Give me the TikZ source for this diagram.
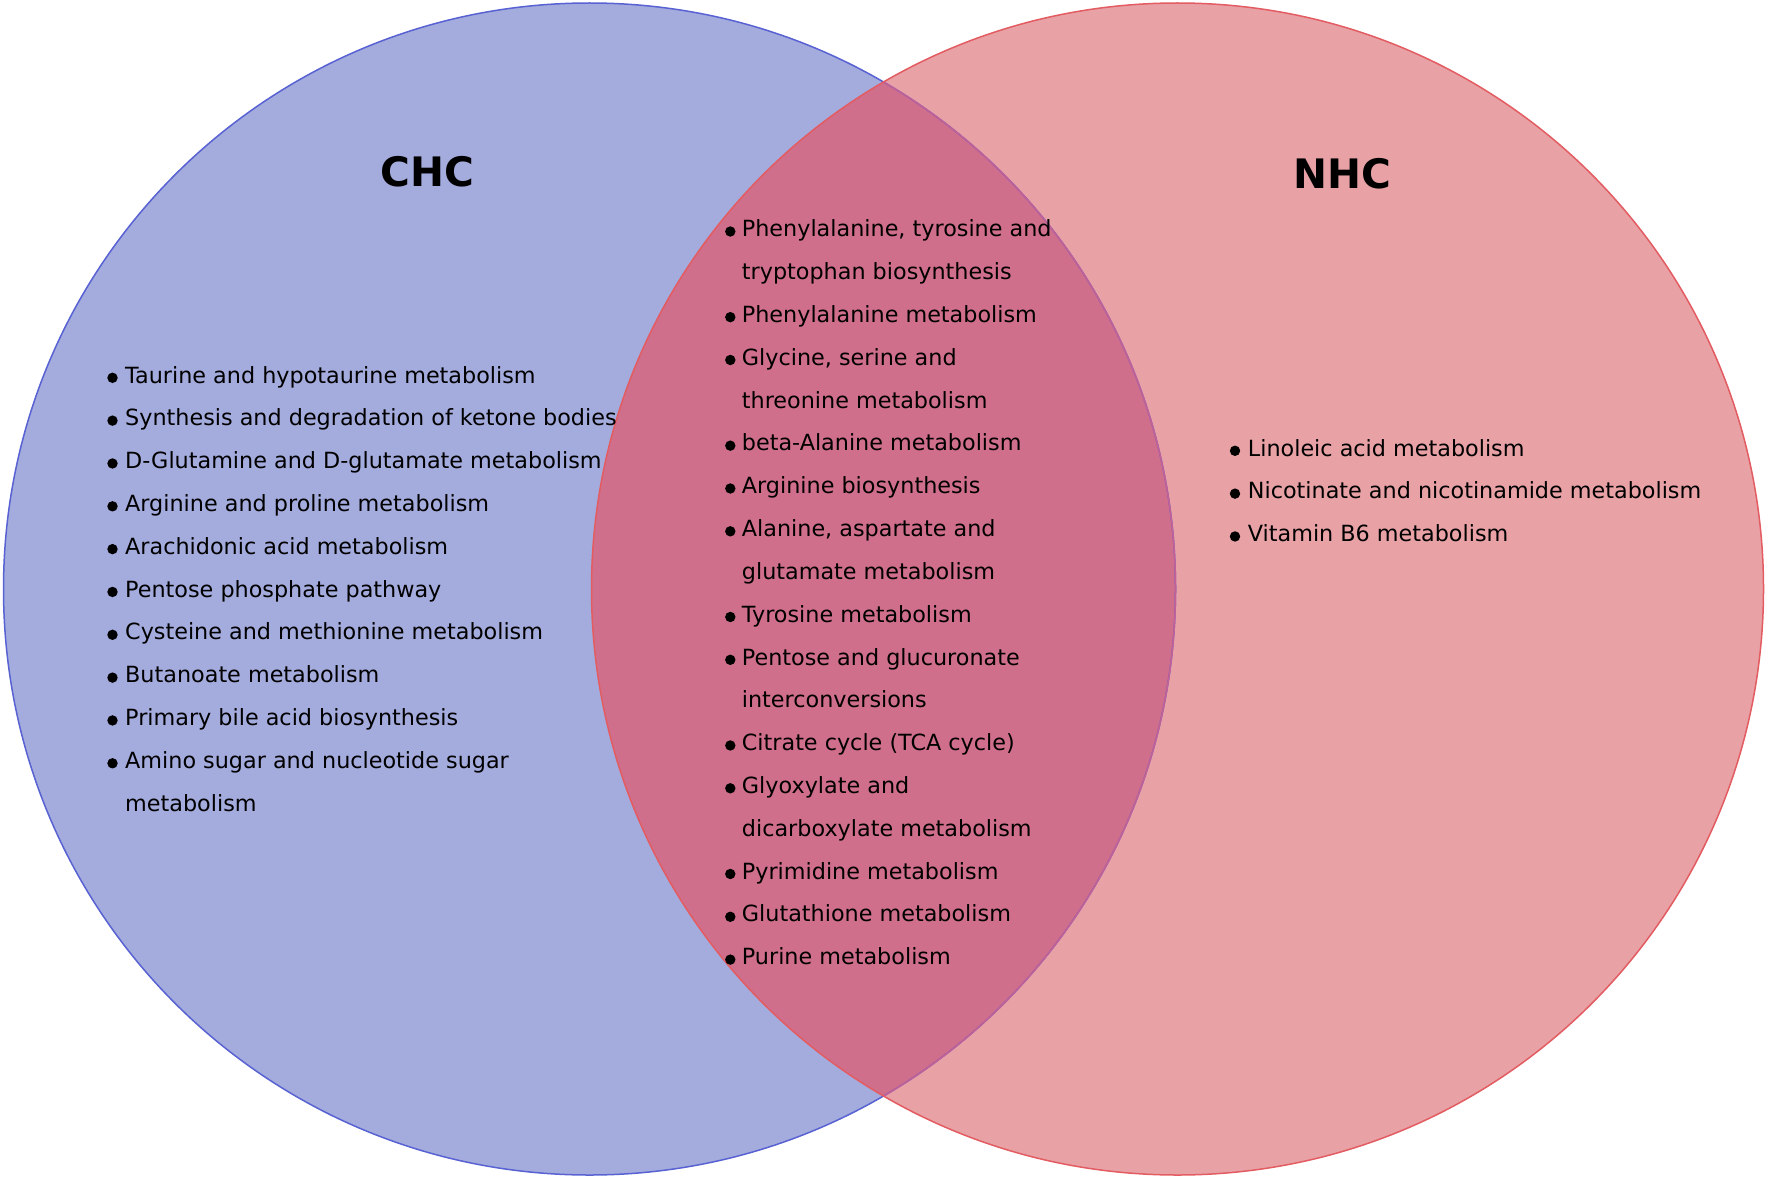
\documentclass[tikz,border=0pt]{standalone}
\usepackage{fontspec}
\setmainfont{DejaVu Sans}
\definecolor{lfill}{RGB}{164,171,221}
\definecolor{rfill}{RGB}{232,162,166}
\definecolor{ofill}{RGB}{208,111,139}
\definecolor{lstroke}{RGB}{88,98,210}
\definecolor{rstroke}{RGB}{226,92,98}
\definecolor{ostroke}{RGB}{196,96,150}
\begin{document}
\begin{tikzpicture}[x=1pt,y=-1pt,
  txt/.style={anchor=base west, inner sep=0pt, text=black, font=\fontsize{22.3}{26}\selectfont},
  ttl/.style={anchor=base, inner sep=0pt, text=black, font=\fontsize{40.6}{48}\selectfont\bfseries},
  bul/.style={circle, fill=black, inner sep=0pt, minimum size=10.4pt}]
\useasboundingbox (0,0) rectangle (1767,1180);
\coordinate (L) at (589.5,589);
\coordinate (R) at (1177.5,589);
% fills
\fill[lfill] (L) circle[radius=586pt];
\fill[rfill] (R) circle[radius=586pt];
\begin{scope}
  \clip (L) circle[radius=586pt];
  \fill[ofill] (R) circle[radius=586pt];
\end{scope}
% outlines
\draw[lstroke, line width=1.5pt] (L) circle[radius=586pt];
\begin{scope}
  \clip (R) circle[radius=586pt];
  \draw[ostroke, line width=1.5pt] (L) circle[radius=586pt];
\end{scope}
\draw[rstroke, line width=1.5pt] (R) circle[radius=586pt];
% titles
\node[ttl] (chc) at (427.7,186.4) {CHC};
\node[ttl] (nhc) at (1342.5,188.3) {NHC};
% left list
\foreach \i/\b/\t in {
  0/1/{Taurine and hypotaurine metabolism},
  1/1/{Synthesis and degradation of ketone bodies},
  2/1/{D-Glutamine and D-glutamate metabolism},
  3/1/{Arginine and proline metabolism},
  4/1/{Arachidonic acid metabolism},
  5/1/{Pentose phosphate pathway},
  6/1/{Cysteine and methionine metabolism},
  7/1/{Butanoate metabolism},
  8/1/{Primary bile acid biosynthesis},
  9/1/{Amino sugar and nucleotide sugar},
  10/0/{metabolism}}{
  \node[txt] (lt\i) at (125,{383+42.83*\i}) {\t};
  \ifnum\b=1 \node[bul] (lb\i) at (112.5,{383+42.83*\i-5.2}) {};\fi
}
% middle list
\foreach \i/\b/\t in {
  0/1/{Phenylalanine, tyrosine and},
  1/0/{tryptophan biosynthesis},
  2/1/{Phenylalanine metabolism},
  3/1/{Glycine, serine and},
  4/0/{threonine metabolism},
  5/1/{beta-Alanine metabolism},
  6/1/{Arginine biosynthesis},
  7/1/{Alanine, aspartate and},
  8/0/{glutamate metabolism},
  9/1/{Tyrosine metabolism},
  10/1/{Pentose and glucuronate},
  11/0/{interconversions},
  12/1/{Citrate cycle (TCA cycle)},
  13/1/{Glyoxylate and},
  14/0/{dicarboxylate metabolism},
  15/1/{Pyrimidine metabolism},
  16/1/{Glutathione metabolism},
  17/1/{Purine metabolism}}{
  \node[txt] (mt\i) at (741.7,{236.7+42.83*\i}) {\t};
  \ifnum\b=1 \node[bul] (mb\i) at (730.3,{236.7+42.83*\i-5.2}) {};\fi
}
% right list
\foreach \i/\t in {
  0/{Linoleic acid metabolism},
  1/{Nicotinate and nicotinamide metabolism},
  2/{Vitamin B6 metabolism}}{
  \node[txt] (rt\i) at (1247.7,{456+42.83*\i}) {\t};
  \node[bul] (rb\i) at (1235,{456+42.83*\i-5.2}) {};
}
\end{tikzpicture}
\end{document}
